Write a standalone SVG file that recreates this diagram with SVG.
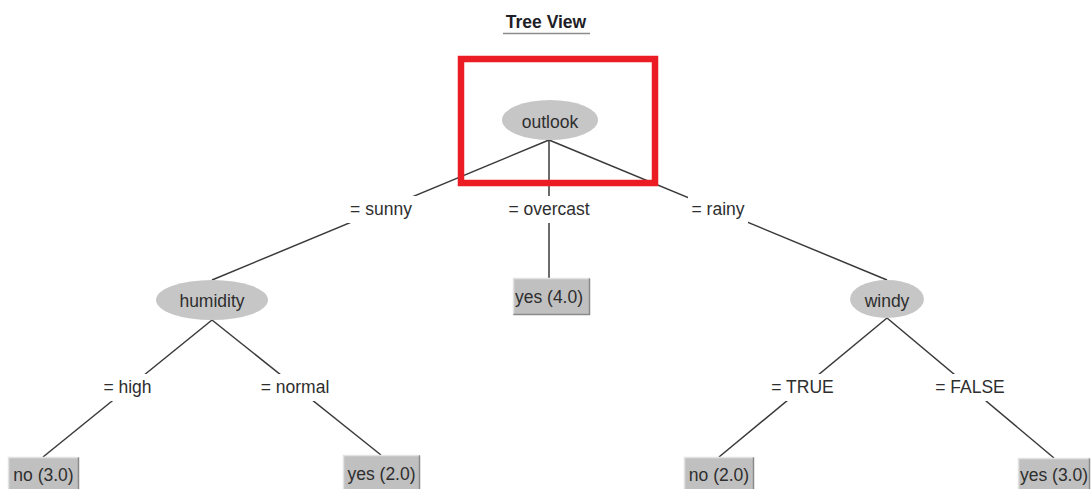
<svg xmlns="http://www.w3.org/2000/svg" width="1091" height="490" viewBox="0 0 1091 490">
  <style>
    text { font-family: "Liberation Sans", Arial, sans-serif; font-size: 17.5px; fill: #2e2e2e; text-anchor: middle; }
    .title { font-weight: bold; fill: #1e1e28; }
    .edge { stroke: #3a3a3a; stroke-width: 1.5; fill: none; }
    .lbl-bg { fill: #ffffff; }
    .split { fill: #c6c6c6; }
    .leaf { fill: #c0c0c0; }
    .hi { stroke: #e2e2e2; stroke-width: 1.5; fill: none; }
    .lo { stroke: #8a8a8a; stroke-width: 1.5; fill: none; }
  </style>

  <rect width="1091" height="490" fill="#ffffff"/>

  <!-- heading -->
  <g id="title">
    <text class="title" x="546" y="28">Tree View</text>
    <line x1="503" y1="33.5" x2="590" y2="33.5" stroke="#8c8c8c" stroke-width="1.6"/>
  </g>

  <!-- branches, with white plates behind the branch labels -->
  <g id="connectors">
    <line class="edge" x1="549" y1="140" x2="212" y2="280"/>
    <line class="edge" x1="549" y1="140" x2="549" y2="278"/>
    <line class="edge" x1="549" y1="140" x2="887" y2="280"/>
    <line class="edge" x1="212" y1="320" x2="43" y2="457"/>
    <line class="edge" x1="212" y1="320" x2="381" y2="455"/>
    <line class="edge" x1="887" y1="318" x2="719" y2="457"/>
    <line class="edge" x1="887" y1="318" x2="1054" y2="458"/>

    <rect class="lbl-bg" x="346" y="196" width="71" height="27"/>
    <text x="381" y="215">= sunny</text>
    <rect class="lbl-bg" x="504" y="196" width="90" height="27"/>
    <text x="549" y="215">= overcast</text>
    <rect class="lbl-bg" x="688" y="196" width="60" height="27"/>
    <text x="718" y="215">= rainy</text>

    <rect class="lbl-bg" x="99" y="374" width="57" height="27"/>
    <text x="127.5" y="393">= high</text>
    <rect class="lbl-bg" x="256" y="374" width="78" height="27"/>
    <text x="295" y="393">= normal</text>
    <rect class="lbl-bg" x="768" y="374" width="69" height="27"/>
    <text x="802.5" y="393">= TRUE</text>
    <rect class="lbl-bg" x="933" y="374" width="74" height="27"/>
    <text x="970" y="393">= FALSE</text>
  </g>

  <!-- split nodes -->
  <g id="node-outlook">
    <ellipse class="split" cx="550" cy="120" rx="48" ry="20"/>
    <text x="550" y="128">outlook</text>
  </g>
  <g id="node-humidity">
    <ellipse class="split" cx="212" cy="300" rx="56" ry="20"/>
    <text x="212" y="307">humidity</text>
  </g>
  <g id="node-windy">
    <ellipse class="split" cx="887" cy="299" rx="37" ry="19"/>
    <text x="887" y="307">windy</text>
  </g>

  <!-- leaves -->
  <g id="leaf-overcast-yes">
    <rect class="leaf" x="513" y="278" width="77" height="37"/>
    <polyline class="hi" points="513.5,314 513.5,278.5 589,278.5"/>
    <polyline class="lo" points="589.5,278.5 589.5,314.5 513.5,314.5"/>
    <text x="549" y="303">yes (4.0)</text>
  </g>
  <g id="leaf-high-no">
    <rect class="leaf" x="8" y="457" width="71" height="32"/>
    <polyline class="hi" points="8.5,489 8.5,457.5 78,457.5"/>
    <polyline class="lo" points="78.5,457.5 78.5,489"/>
    <text x="43.5" y="481">no (3.0)</text>
  </g>
  <g id="leaf-normal-yes">
    <rect class="leaf" x="343" y="455" width="77" height="34"/>
    <polyline class="hi" points="343.5,489 343.5,455.5 419,455.5"/>
    <polyline class="lo" points="419.5,455.5 419.5,489"/>
    <text x="381.5" y="480">yes (2.0)</text>
  </g>
  <g id="leaf-true-no">
    <rect class="leaf" x="684" y="457" width="70" height="32"/>
    <polyline class="hi" points="684.5,489 684.5,457.5 753,457.5"/>
    <polyline class="lo" points="753.5,457.5 753.5,489"/>
    <text x="719" y="481">no (2.0)</text>
  </g>
  <g id="leaf-false-yes">
    <rect class="leaf" x="1018" y="458" width="72" height="31"/>
    <polyline class="hi" points="1018.5,489 1018.5,458.5 1089,458.5"/>
    <polyline class="lo" points="1089.5,458.5 1089.5,489"/>
    <text x="1054" y="481">yes (3.0)</text>
  </g>

  <!-- highlight frame around the root -->
  <g id="highlight">
    <rect x="461" y="59" width="194" height="124" fill="none" stroke="#ec1c24" stroke-width="6.5"/>
  </g>
</svg>
